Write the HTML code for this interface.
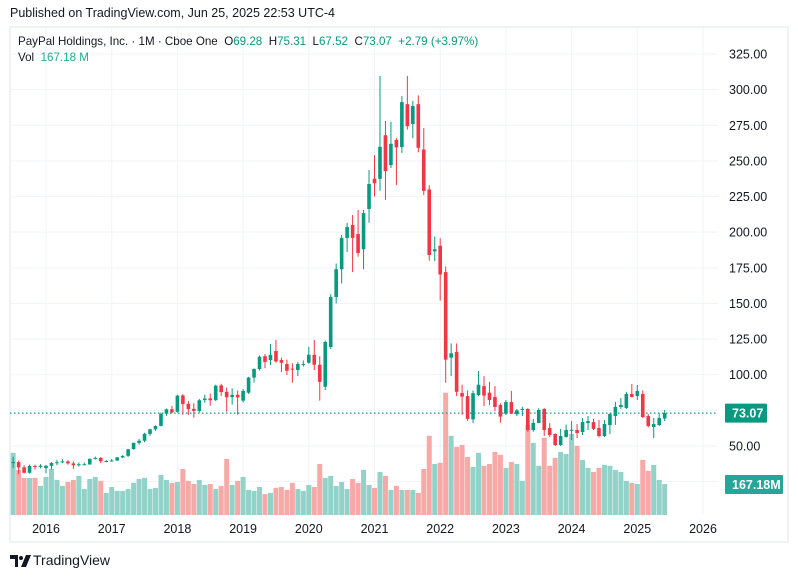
<!DOCTYPE html>
<html><head><meta charset="utf-8">
<style>
body{margin:0;background:#fff;font-family:"Liberation Sans",sans-serif;}
#wrap{position:relative;width:798px;height:578px;overflow:hidden;background:#fff;}
.t{position:absolute;white-space:nowrap;}
</style></head>
<body>
<div id="wrap">
<div class="t" style="left:10px;top:6px;font-size:12.5px;color:#131722;">Published on TradingView.com, Jun 25, 2025 22:53 UTC-4</div>
<svg id="chart" width="798" height="578" style="position:absolute;left:0;top:0;"></svg>
<div class="t" style="left:18px;top:35px;font-size:11.6px;color:#131722;">PayPal Holdings, Inc. · 1M · Cboe One&nbsp; O<span style="color:#089981">69.28</span>&nbsp; H<span style="color:#089981">75.31</span>&nbsp; L<span style="color:#089981">67.52</span>&nbsp; C<span style="color:#089981">73.07</span>&nbsp; <span style="color:#089981">+2.79 (+3.97%)</span></div>
<div class="t" style="left:18px;top:51px;font-size:11.6px;color:#131722;">Vol&nbsp; <span style="color:#22ab94">167.18 M</span></div>
<svg style="position:absolute;left:10px;top:555px;" width="22" height="12">
<path d="M0 0h8v12h-3v-8h-5z" fill="#131722"/><circle cx="11" cy="3" r="2" fill="#131722"/><path d="M16 0h5l-5 12h-5z" fill="#131722"/></svg>
<div class="t" style="left:33px;top:552px;font-size:14px;color:#131722;">TradingView</div>
</div>
<script>
const months=120;
const opens=[38.3,38.7,35.0,31.2,36.0,35.4,
34.5,36.1,38.2,38.7,39.2,37.8,36.6,37.0,37.1,41.0,41.6,39.3,
39.6,39.8,42.0,43.1,47.8,52.2,53.7,58.5,61.7,64.1,72.7,75.8,
74.0,85.5,79.6,76.1,74.6,82.2,83.4,82.2,92.5,88.0,84.3,85.9,
81.8,87.4,98,104,113,110.3,116.6,110.3,107.5,104.3,103.3,107.4,
108.4,114,107,91.6,119.4,154.5,174,196,205,198.7,188,216.3,
237.5,237.4,268,247,264.7,259.7,289.8,275.9,289.8,258,230,186.6,
190.5,172,112,116,87.2,85,68.7,85.8,92,87.4,84.4,78.7,
72.7,80.8,72.3,75.5,76,61.2,66.1,76,62.6,58.4,50.7,56.3,
61.2,61.2,59.8,66.1,66.8,62.6,57,64.7,71,77.4,76.7,86.5,
85.1,86.5,71,63.3,64.7,69.28];
const highs=[42.5,39.8,36.5,37.0,36.9,37.3,
36.7,38.7,40.3,40.7,40.0,39.2,38.4,38.4,41.3,42.6,42.3,40.1,
40.8,42.3,43.6,48.0,52.4,55.0,59.3,62.0,64.5,73.5,76.3,78.1,
86.0,86.4,81.5,80.0,83.0,86.0,86.7,93.0,93.6,91.0,90.5,89.0,
90,98.5,104.5,113.5,114.5,121.6,124.4,112,110.6,108,108.9,110,
119.6,124.4,113,124,156.5,178,198,206.5,212,215.6,215.6,243.6,
254,309.6,278,277.5,266,295.5,309.6,292,296,273,233,197,
195.8,176,122,122,93,89,89,102.6,99,95,92,80,
82.3,88.6,76,77.5,76.5,69,76.5,76.5,66,59,62,65,
67.5,65.4,69.6,71,69,68.2,68.2,73,81,83.7,88,93.5,
92.8,89,72.5,69.6,73,75.31];
const lows=[34.5,30.2,30.8,30.7,33.4,34.3,
30.9,33.5,36.5,38.0,36.9,34.0,35.5,36.5,36.8,40.5,38.0,38.6,
39.1,39.5,41.6,42.3,47.4,50.9,52.7,57.1,60.6,63.7,71.1,73.0,
73.4,72.0,71.8,69.9,73.5,80.3,78.2,81.5,85.1,74.0,79.0,72.0,
80.5,86.5,94.5,103,104.5,106.7,108.5,101.8,99.8,94.4,99,105.7,
107.8,103.3,81.8,89.2,118,150,164,186,172,182.8,174,206.6,
225,229,222.6,245,233,255.6,272,266,256,226,180,179.7,
152,94.4,99,85,72,67.7,66,85,78,78.7,74.5,66.4,
71.7,72.4,71,71,60,60,66,57,56.3,50,50,56,
54.2,55.6,57.7,61.2,61.2,56,56.3,58.4,64.8,76,76,84,
82.3,69.6,63,55.6,64,67.52];
const closes=[38.7,35.0,31.2,36.0,35.3,36.2,
36.1,38.1,38.6,39.2,37.8,36.5,37.2,37.2,41.0,41.6,39.3,39.5,
39.8,42.0,43.0,47.7,52.2,53.7,58.5,61.7,64.0,72.6,75.7,73.6,
85.3,79.4,75.9,74.6,82.1,83.3,82.1,92.3,87.8,84.2,85.8,84.1,
88.6,98,104,112.6,109,114,109.3,108.4,102.8,104,107.5,107.6,
114,107,95,123,154.5,174,196,203.6,196,185.4,213.4,233.8,
234.3,259.9,242.8,262,259.5,291.3,274.4,288.5,259.2,229,184,188,
170.3,110.6,115,88,84.6,69,87,93,85.3,82.3,77.4,70.6,
80.8,72.7,75,76,61.2,66.2,75.3,61.2,57.7,50.7,57,61.2,
61.4,59.1,66.8,67.5,62,57,65.4,72.4,77.4,78.8,86.5,84.4,
88.6,70.3,64,65.4,69.6,73.07];
const volumes=[335,243,200,200,200,157,205,248,189,157,178,189,211,140,194,205,184,119,151,130,
130,140,173,194,200,140,146,216,189,173,178,248,184,167,189,162,167,140,157,302,
162,184,205,135,130,151,113,119,146,151,135,173,140,130,162,151,275,200,211,157,
178,140,194,173,243,162,146,232,211,135,157,135,135,135,119,248,427,275,281,659,
427,367,378,313,259,335,265,275,340,324,254,286,275,184,486,389,265,416,265,308,
340,329,437,373,297,254,232,254,270,265,243,232,184,173,167,297,238,270,189,167];
const priceTicks=[50,75,100,125,150,175,200,225,250,275,300,325];
const gridPrices=[25,50,75,100,125,150,175,200,225,250,275,300,325];
const yearLabels=["2016","2017","2018","2019","2020","2021","2022","2023","2024","2025","2026"];
const yearIdx=[6,18,30,42,54,66,78,90,102,114,126];
const lastPrice=73.07;
const lastVolume=167.18;

const svg=document.getElementById('chart');
const NS='http://www.w3.org/2000/svg';
const plotL=10,plotR=718,plotB=515,volH=5.39;
function xOf(i){return 46+(i-6)*5.475;}
function yOf(p){return 446-(p-50)*1.4255;}
function vY(v){return plotB-v/volH;}
function mk(tag,attrs){const e=document.createElementNS(NS,tag);for(const k in attrs)e.setAttribute(k,attrs[k]);svg.appendChild(e);return e;}

let fr=mk('rect',{x:10,y:27,width:778,height:515,fill:'none',stroke:'#f0f3f6','stroke-width':2});


gridPrices.forEach(p=>{const g=mk('line',{x1:plotL,x2:plotR,y1:yOf(p),y2:yOf(p),stroke:'#f0f3fa','stroke-width':1});

});
yearIdx.forEach(i=>{const g=mk('line',{x1:xOf(i),x2:xOf(i),y1:28,y2:plotB,stroke:'#f0f3fa','stroke-width':1});

});
for(let i=0;i<months;i++){
 const up=closes[i]>=opens[i];
 const r=mk('rect',{x:xOf(i)-2.5,y:vY(volumes[i]),width:5,height:volumes[i]/volH,fill:up?'#92d2c9':'#f7a9a7'});
 
 
}
const lp=mk('line',{x1:plotL,x2:plotR,y1:yOf(lastPrice),y2:yOf(lastPrice),stroke:'#089981','stroke-width':1.3,'stroke-dasharray':'1.5 2.5'});


for(let i=0;i<months;i++){
 const up=closes[i]>=opens[i];const c=up?'#089981':'#f23645';const x=xOf(i);
 const g=document.createElementNS(NS,'g');svg.appendChild(g);
 
 
 const w=document.createElementNS(NS,'line');
 w.setAttribute('x1',x);w.setAttribute('x2',x);w.setAttribute('y1',yOf(highs[i]));w.setAttribute('y2',yOf(lows[i]));w.setAttribute('stroke',c);w.setAttribute('stroke-width',1);
 g.appendChild(w);
 const top=yOf(Math.max(opens[i],closes[i])),bot=yOf(Math.min(opens[i],closes[i]));
 const b=document.createElementNS(NS,'rect');
 b.setAttribute('x',x-1.8);b.setAttribute('y',top);b.setAttribute('width',3.6);b.setAttribute('height',Math.max(1,bot-top));b.setAttribute('fill',c);
 g.appendChild(b);
}
priceTicks.forEach(p=>{const t=mk('text',{x:729,y:yOf(p)+4.5,'font-size':12.5,fill:'#131722','font-family':'Liberation Sans, sans-serif'});
t.textContent=p.toFixed(2);

});
yearLabels.forEach((y,k)=>{const t=mk('text',{x:xOf(yearIdx[k]),y:533,'font-size':12.5,fill:'#131722','text-anchor':'middle','font-family':'Liberation Sans, sans-serif'});
t.textContent=y;

});
const lb=mk('rect',{x:725,y:yOf(lastPrice)-9.5,width:42,height:19,fill:'#089981',rx:1});


const lt=mk('text',{x:732,y:yOf(lastPrice)+4.5,'font-size':12.5,fill:'#fff','font-weight':'bold','font-family':'Liberation Sans, sans-serif'});
lt.textContent=lastPrice.toFixed(2);


const vb=mk('rect',{x:725,y:vY(lastVolume)-9,width:58,height:19,fill:'#26a69a',rx:1});


const vt=mk('text',{x:732,y:vY(lastVolume)+5,'font-size':12.5,fill:'#fff','font-weight':'bold','font-family':'Liberation Sans, sans-serif'});
vt.textContent=lastVolume.toFixed(2)+'M';


</script>
</body></html>
